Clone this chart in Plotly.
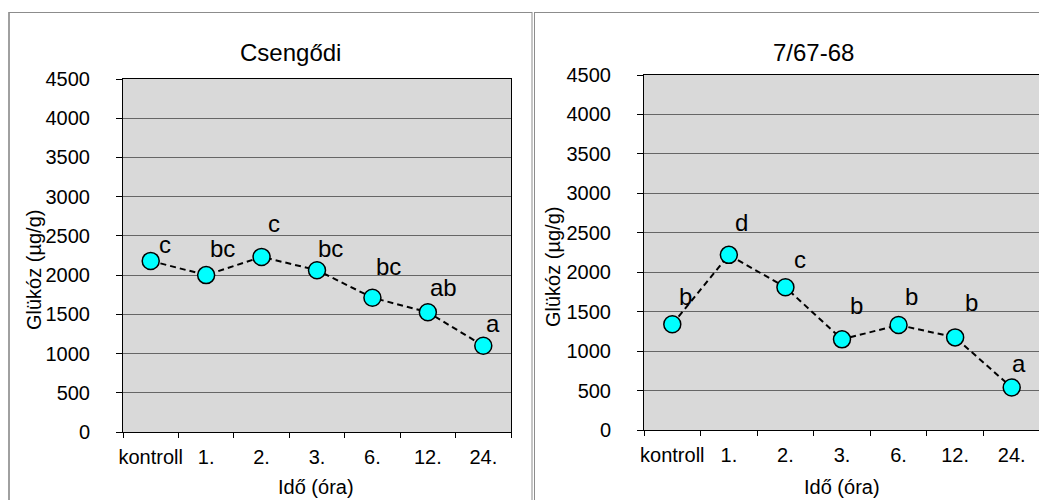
import plotly.graph_objects as go

# ---- data ----
categories = ["kontroll", "1.", "2.", "3.", "6.", "12.", "24."]
csengodi_values = [2181, 2000, 2232, 2063, 1712, 1527, 1099]
csengodi_letters = ["c", "bc", "c", "bc", "bc", "ab", "a"]
v767_values = [1340, 2220, 1809, 1149, 1331, 1174, 538]
v767_letters = ["b", "d", "c", "b", "b", "b", "a"]
y_ticks = [0, 500, 1000, 1500, 2000, 2500, 3000, 3500, 4000, 4500]
title_left = "Csengődi"
title_right = "7/67-68"
x_title = "Idő (óra)"
y_title = "Glükóz (µg/g)"

# ---- label offsets (pixels) ----
left_offsets = [(14, 16), (16, 27), (12, 33), (13, 22), (16, 31), (16, 25), (10, 22)]
right_offsets = [(13, 28), (13, 32), (15, 28), (14, 34), (13, 29), (16, 35), (7, 24)]

# page body has an 8px margin: size the figure to fit the 1047x500 window
OFF = 8
W, H = 1047 - OFF, 500 - OFF
FONT = "Arial, 'Liberation Sans', sans-serif"


def px(x):
    return (x - OFF) / W


def py(y):
    return 1 - (y - OFF) / H


fig = go.Figure()

marker = dict(size=17, color="#00FFFF", line=dict(color="black", width=1.5))
line = dict(color="black", width=2, dash="6px,4px")

fig.add_trace(go.Scatter(x=categories, y=csengodi_values, mode="lines+markers",
                         marker=marker, line=line, xaxis="x", yaxis="y",
                         showlegend=False, hoverinfo="skip"))
fig.add_trace(go.Scatter(x=categories, y=v767_values, mode="lines+markers",
                         marker=marker, line=line, xaxis="x2", yaxis="y2",
                         showlegend=False, hoverinfo="skip"))

xaxis_common = dict(type="category", categoryorder="array", categoryarray=categories,
                    range=[-0.5, len(categories) - 0.5], tickson="boundaries",
                    ticks="outside", ticklen=5, tickcolor="black", tickwidth=1,
                    showline=True, linecolor="black", linewidth=1, mirror=True,
                    showgrid=False, zeroline=False, tickangle=0, automargin=False,
                    tickfont=dict(family=FONT, size=20, color="black"),
                    ticklabelstandoff=7, fixedrange=True)
yaxis_common = dict(range=[0, 4500], tickvals=y_ticks, ticks="outside", ticklen=6,
                    tickcolor="black", tickwidth=1, showline=True, linecolor="black",
                    linewidth=1, mirror=True, showgrid=True, gridcolor="#666666",
                    gridwidth=1, zeroline=False, automargin=False,
                    tickfont=dict(family=FONT, size=20, color="black"),
                    ticklabelstandoff=22, fixedrange=True)

fig.update_layout(
    width=W, height=H, autosize=False,
    margin=dict(l=0, r=0, t=0, b=0, pad=0, autoexpand=False),
    paper_bgcolor="white", plot_bgcolor="#d9d9d9",
    xaxis=dict(xaxis_common, domain=[px(123), px(511)], anchor="y"),
    yaxis=dict(yaxis_common, domain=[py(432), py(79)], anchor="x"),
    xaxis2=dict(xaxis_common, domain=[px(644), px(1040)], anchor="y2"),
    yaxis2=dict(yaxis_common, domain=[py(430), py(75)], anchor="x2"),
    font=dict(family=FONT, color="black"),
)

annotations = []
for vals, letters, offs, xr, yr in [
    (csengodi_values, csengodi_letters, left_offsets, "x", "y"),
    (v767_values, v767_letters, right_offsets, "x2", "y2"),
]:
    for i, (v, t, (dx, dy)) in enumerate(zip(vals, letters, offs)):
        annotations.append(dict(x=i, y=v, xref=xr, yref=yr, text=t, showarrow=False,
                                xshift=dx, yshift=dy, xanchor="center", yanchor="middle",
                                font=dict(family=FONT, size=24, color="black")))

# titles
for txt, x, y, size in [(title_left, 290.5, 52, 24), (title_right, 813, 52, 24),
                        (x_title, 316, 487, 20), (x_title, 842, 487, 20)]:
    annotations.append(dict(x=px(x), y=py(y), xref="paper", yref="paper", text=txt,
                            showarrow=False, xanchor="center", yanchor="middle",
                            font=dict(family=FONT, size=size, color="black")))
for x, y in [(34, 270), (553, 267)]:
    annotations.append(dict(x=px(x), y=py(y), xref="paper", yref="paper", text=y_title,
                            showarrow=False, textangle=-90, xanchor="center",
                            yanchor="middle",
                            font=dict(family=FONT, size=20, color="black")))

fig.update_layout(annotations=annotations)

# outer chart frames
shapes = [
    dict(type="line", xref="paper", yref="paper", x0=px(9), x1=px(9), y0=py(12), y1=py(501),
         line=dict(color="#a0a0a0", width=2)),
    dict(type="line", xref="paper", yref="paper", x0=px(9), x1=px(532), y0=py(12.5), y1=py(12.5),
         line=dict(color="#8c8c8c", width=1)),
    dict(type="line", xref="paper", yref="paper", x0=px(532), x1=px(532), y0=py(12), y1=py(501),
         line=dict(color="#8c8c8c", width=1)),
    dict(type="line", xref="paper", yref="paper", x0=px(534.5), x1=px(534.5), y0=py(12), y1=py(501),
         line=dict(color="#8c8c8c", width=1)),
    dict(type="line", xref="paper", yref="paper", x0=px(534.5), x1=px(1048), y0=py(12.5), y1=py(12.5),
         line=dict(color="#8c8c8c", width=1)),
]
fig.update_layout(shapes=shapes)

fig.write_html("out.html")
